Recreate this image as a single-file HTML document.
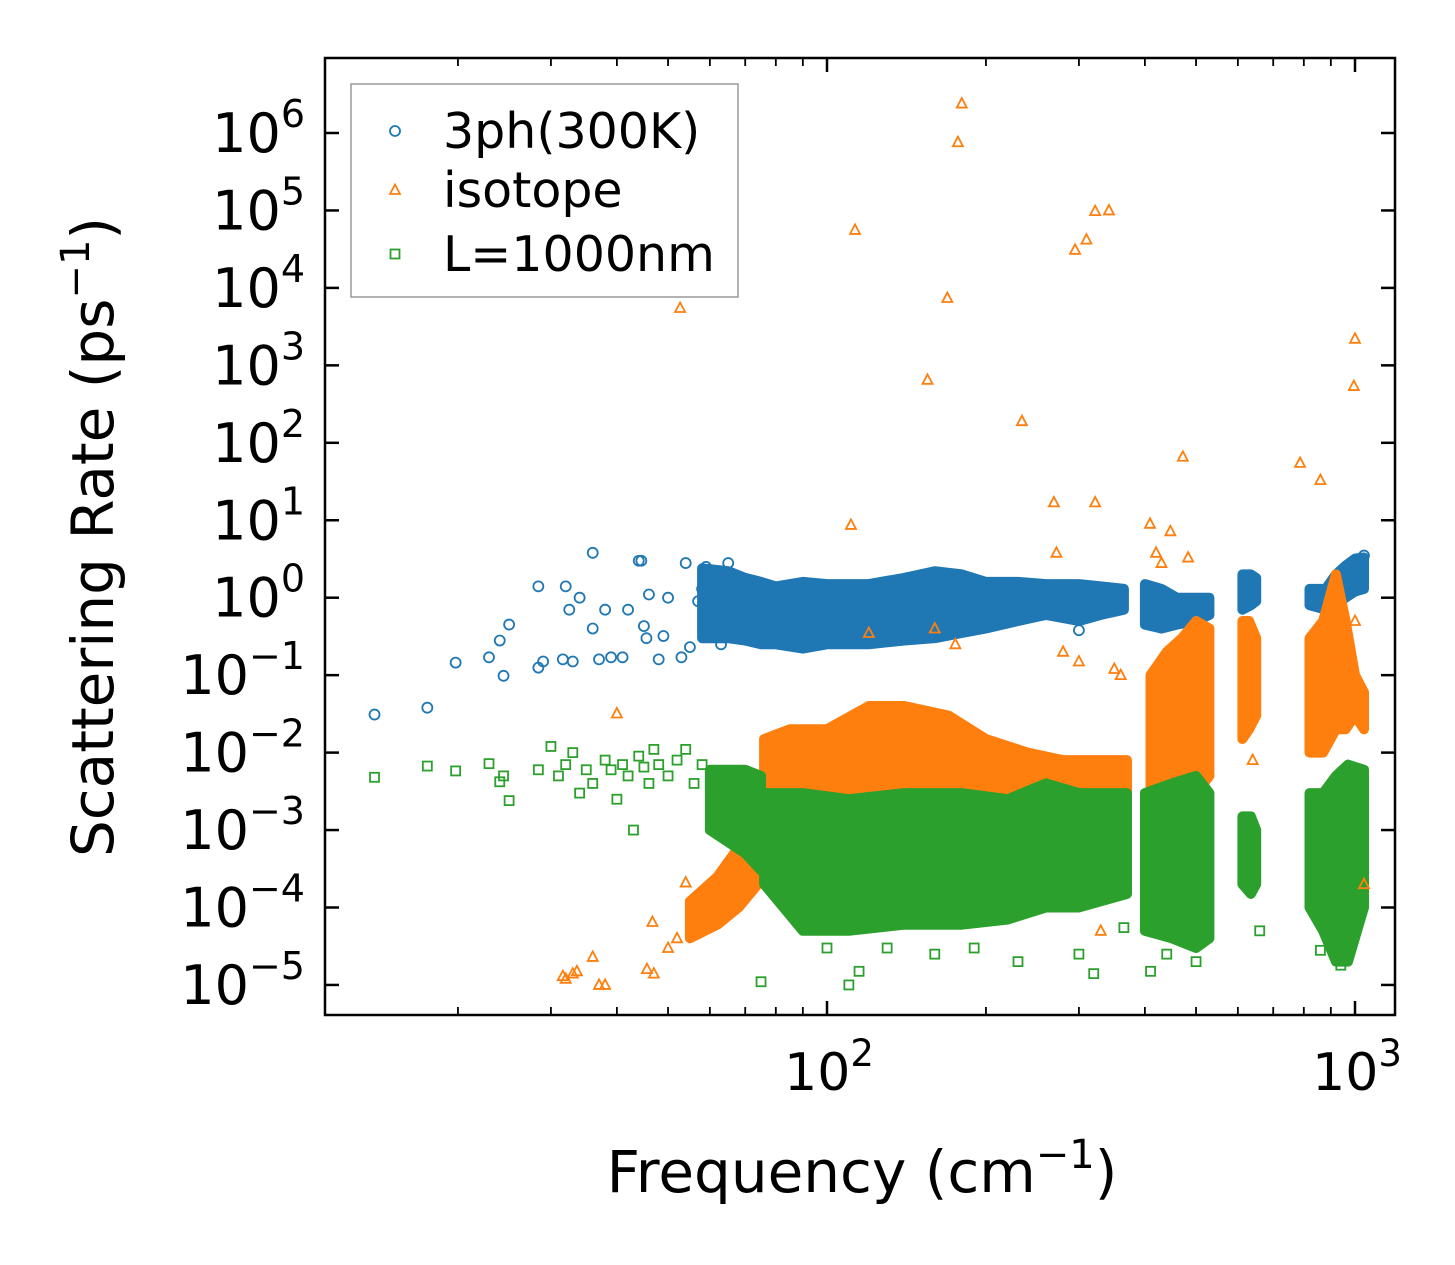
<!DOCTYPE html>
<html><head><meta charset="utf-8"><style>
html,body{margin:0;padding:0;background:#fff;}
svg{display:block;font-family:"DejaVu Sans","Liberation Sans",sans-serif;}
</style></head><body>
<svg id="chart" width="1455" height="1265" viewBox="0 0 1455 1265" xmlns="http://www.w3.org/2000/svg">
<rect width="1455" height="1265" fill="#fff"/>
<g id="bands"></g>
<g id="marks"></g>
<g id="axes"></g>
</svg>
<script>
// ---- data ----
const xTickValues = [100, 1000];
const xTickLabels = ["2", "3"];
const yTickExps = [-5,-4,-3,-2,-1,0,1,2,3,4,5,6];
const seriesNames = ["3ph(300K)", "isotope", "L=1000nm"];

const threephPoints = [[13.9,0.031],[17.5,0.038],[19.8,0.145],[22.9,0.17],[24,0.28],[24.4,0.098],[25,0.45],[28.4,1.4],[28.4,0.125],[29,0.15],[31.6,0.16],[32,1.4],[32.5,0.7],[33,0.15],[34,1.0],[36,3.8],[36,0.4],[37,0.16],[38,0.7],[39,0.17],[41,0.17],[42,0.7],[44,3],[44.5,3],[45,0.43],[46,1.1],[45.5,0.3],[48,0.16],[50,1],[49,0.32],[53,0.17],[54,2.8],[55,0.23],[57,0.9],[58,1.3],[59,2.5],[60,1.8],[62,2.2],[63,0.25],[65,2.8],[300,0.38],[1040,3.5]];
const threephBand1 = [[58,0.3,2.4],[65,0.3,2.2],[70,0.28,1.8],[75,0.25,1.6],[80,0.25,1.4],[90,0.22,1.6],[100,0.25,1.5],[120,0.25,1.5],[140,0.28,1.8],[160,0.3,2.2],[180,0.35,2.0],[200,0.4,1.6],[230,0.5,1.6],[260,0.6,1.5],[300,0.5,1.5],[330,0.6,1.4],[365,0.7,1.3]];
const threephBand2 = [[400,0.45,1.5],[430,0.4,1.3],[460,0.45,1.0],[500,0.5,1.0],[530,0.6,1.0]];
const threephBand3 = [[612,0.7,2.0],[635,0.8,2.0],[650,0.9,1.8]];
const threephBand4 = [[820,0.8,1.3],[880,0.7,1.3],[920,0.8,2.0],[960,1.0,2.6],[1000,1.2,3.2],[1040,1.3,3.3]];

const isotopePoints = [[52.7,5500],[113,56000],[180,2.4e6],[177,7.6e5],[169,7400],[155,650],[234,190],[295,31000],[310,42000],[322,98000],[342,1e5],[1000,2200],[995,540],[472,66],[787,55],[860,33],[111,8.7],[269,17],[322,17],[409,9],[447,7.2],[272,3.8],[420,3.8],[430,2.8],[483,3.3],[40,0.032],[54,2.1e-4],[46.7,6.5e-5],[31.6,1.3e-5],[32,1.2e-5],[33,1.4e-5],[33.6,1.5e-5],[36,2.3e-5],[37,1e-5],[38,1e-5],[45.6,1.6e-5],[47,1.4e-5],[50,3e-5],[52,4e-5],[160,0.4],[175,0.25],[280,0.2],[300,0.15],[360,0.1],[350,0.12],[120,0.35],[330,5e-5],[1040,2e-4],[640,0.008],[1000,0.5]];
const isotopeBand1 = [[55,4e-5,1.2e-4],[62,6e-5,2.5e-4],[68,1e-4,6e-4],[74,2e-4,3e-3]];
const isotopeBand2 = [[76,3e-4,1.5e-2],[85,2e-4,2e-2],[100,2e-4,2e-2],[120,1.5e-4,4e-2],[140,1.5e-4,4e-2],[170,1.5e-4,3e-2],[200,1.5e-4,1.5e-2],[240,1.5e-4,1e-2],[280,1.5e-4,8e-3],[320,1.5e-4,8e-3],[370,2e-4,8e-3]];
const isotopeBand3 = [[410,3e-4,0.1],[440,5e-4,0.2],[470,1e-3,0.3],[500,3e-3,0.5],[530,5e-3,0.4]];
const isotopeBand4 = [[612,0.015,0.5],[630,0.02,0.5],[650,0.03,0.3]];
const isotopeBand5 = [[820,0.01,0.3],[870,0.01,0.5],[920,0.02,2],[960,0.02,0.5],[1000,0.03,0.1],[1040,0.02,0.06]];

const lengthPoints = [[13.9,4.8e-3],[17.5,6.7e-3],[19.8,5.8e-3],[22.9,7.2e-3],[24,4.2e-3],[24.4,5e-3],[25,2.4e-3],[28.4,6e-3],[30,1.2e-2],[31,5e-3],[32,7e-3],[33,1e-2],[34,3e-3],[35,6e-3],[36,4e-3],[38,8e-3],[39,6e-3],[40,2.5e-3],[41,7e-3],[42,5e-3],[43,1e-3],[44,9e-3],[45,6.5e-3],[46,4e-3],[47,1.1e-2],[48,7e-3],[50,5e-3],[52,8e-3],[54,1.1e-2],[56,4e-3],[58,7e-3],[75,1.1e-5],[110,1e-5],[115,1.5e-5],[100,3e-5],[130,3e-5],[160,2.5e-5],[190,3e-5],[230,2e-5],[300,2.5e-5],[320,1.4e-5],[365,5.5e-5],[410,1.5e-5],[440,2.5e-5],[500,2e-5],[660,5e-5],[860,2.8e-5],[940,1.8e-5]];
const lengthBand1 = [[60,1e-3,6e-3],[70,5e-4,6e-3],[75,3e-4,5e-3]];
const lengthBand2 = [[76,2e-4,3e-3],[90,5e-5,3e-3],[110,5e-5,2.5e-3],[140,6e-5,3e-3],[180,6e-5,3e-3],[220,7e-5,2.5e-3],[260,1e-4,4e-3],[300,1e-4,3e-3],[370,1.5e-4,3e-3]];
const lengthBand3 = [[400,5e-5,3e-3],[450,4e-5,4e-3],[500,3e-5,5e-3],[530,4e-5,3e-3]];
const lengthBand4 = [[612,2e-4,1.5e-3],[635,1.5e-4,1.5e-3],[650,2e-4,1e-3]];
const lengthBand5 = [[820,1e-4,3e-3],[870,5e-5,3e-3],[920,2e-5,5e-3],[970,2e-5,7e-3],[1040,1e-4,6e-3]];

// ---- scales ----
const L=325,R=1395,T=58,B=1015;
function xs(f){return 827+(Math.log10(f)-2)*528;}
function ys(v){return 133-(Math.log10(v)-6)*77.45;}
const NS="http://www.w3.org/2000/svg";
function mk(tag,parent){const e=document.createElementNS(NS,tag);parent.appendChild(e);return e;}
const C=["#1f77b4","#ff7f0e","#2ca02c"];
const bands=document.getElementById('bands'), marks=document.getElementById('marks'), axes=document.getElementById('axes');

function drawBand(arr,color,name,grp){
  const top=arr.map(d=>xs(d[0]).toFixed(1)+","+ys(d[2]).toFixed(1));
  const bot=arr.slice().reverse().map(d=>xs(d[0]).toFixed(1)+","+ys(d[1]).toFixed(1));
  const p=mk('polygon',grp);
  p.setAttribute('points',top.concat(bot).join(' '));
  p.setAttribute('fill',color);p.setAttribute('stroke',color);p.setAttribute('stroke-width','10');p.setAttribute('stroke-linejoin','round');
  
  
}
function marker(kind,x,y,color,parent){
  let e;
  if(kind===0){e=mk('circle',parent);e.setAttribute('cx',x);e.setAttribute('cy',y);e.setAttribute('r',5);}
  else if(kind===1){e=mk('polygon',parent);e.setAttribute('points',`${x},${y-5.5} ${x-5},${y+4} ${x+5},${y+4}`);}
  else {e=mk('rect',parent);e.setAttribute('x',x-4.5);e.setAttribute('y',y-4.5);e.setAttribute('width',9);e.setAttribute('height',9);}
  e.setAttribute('fill','none');e.setAttribute('stroke',color);e.setAttribute('stroke-width','1.8');
  return e;
}
function drawPts(arr,kind,color,name){
  const g=mk('g',marks);
  
  
  arr.forEach(d=>{const e=marker(kind,xs(d[0]),ys(d[1]),color,g);
    
    });
}
[threephBand1,threephBand2,threephBand3,threephBand4].forEach(b=>drawBand(b,C[0],'3ph-cluster',bands));
drawPts(threephPoints,0,C[0],'3ph-series');
[isotopeBand1,isotopeBand2,isotopeBand3,isotopeBand4,isotopeBand5].forEach(b=>drawBand(b,C[1],'isotope-cluster',bands));
drawPts(isotopePoints,1,C[1],'isotope-series');
[lengthBand1,lengthBand2,lengthBand3,lengthBand4,lengthBand5].forEach(b=>drawBand(b,C[2],'boundary-cluster',bands));
drawPts(lengthPoints,2,C[2],'boundary-series');

// ---- axes ----
const frame=mk('rect',axes);
frame.setAttribute('x',L);frame.setAttribute('y',T);frame.setAttribute('width',R-L);frame.setAttribute('height',B-T);
frame.setAttribute('fill','none');frame.setAttribute('stroke','#000');frame.setAttribute('stroke-width','2.5');


function line(x1,y1,x2,y2,w){const l=mk('line',axes);l.setAttribute('x1',x1);l.setAttribute('y1',y1);l.setAttribute('x2',x2);l.setAttribute('y2',y2);l.setAttribute('stroke','#000');l.setAttribute('stroke-width',w);return l;}
for(let dec=10;dec<=1000;dec*=10){for(let m=1;m<10;m++){const f=dec*m;const x=xs(f);if(x<L||x>R)continue;const len=m===1?14:8;
  line(x,B,x,B-len,m===1?2.5:1.8);line(x,T,x,T+len,m===1?2.5:1.8);}}
xTickValues.forEach((v,i)=>{const t=mk('text',axes);t.setAttribute('x',xs(v)+2);t.setAttribute('y',1090);t.setAttribute('text-anchor','middle');t.setAttribute('font-size','52');
  t.innerHTML=`10<tspan dy="-24" font-size="37">${xTickLabels[i]}</tspan>`;
  
  });
yTickExps.forEach(e=>{const y=ys(Math.pow(10,e));line(L,y,L+14,y,2.5);line(R,y,R-14,y,2.5);
  const t=mk('text',axes);t.setAttribute('x',305);t.setAttribute('y',y+19);t.setAttribute('text-anchor','end');t.setAttribute('font-size','54');
  t.innerHTML=`10<tspan dy="-25" font-size="38">${e<0?'\u2212'+(-e):e}</tspan>`;
  
  });
const xl=mk('text',axes);xl.setAttribute('x',862);xl.setAttribute('y',1192);xl.setAttribute('text-anchor','middle');xl.setAttribute('font-size','58');
xl.innerHTML='Frequency (cm<tspan dy="-24" font-size="40">\u22121</tspan><tspan dy="24">)</tspan>';


const yl=mk('text',axes);yl.setAttribute('transform','translate(113,537) rotate(-90)');yl.setAttribute('text-anchor','middle');yl.setAttribute('font-size','58');
yl.innerHTML='Scattering Rate (ps<tspan dy="-24" font-size="40">\u22121</tspan><tspan dy="24">)</tspan>';


// legend
const lg=mk('g',axes);


const lb=mk('rect',lg);lb.setAttribute('x',351);lb.setAttribute('y',84);lb.setAttribute('width',387);lb.setAttribute('height',213);lb.setAttribute('fill','#fff');lb.setAttribute('fill-opacity','0.8');lb.setAttribute('stroke','#999');lb.setAttribute('stroke-width','1.5');
const ly=[131,190,254];
seriesNames.forEach((n,i)=>{const en=mk('g',lg);
  
  
  marker(i,395,ly[i],C[i],en);
  const t=mk('text',en);t.setAttribute('x',443);t.setAttribute('y',ly[i]+17);t.setAttribute('font-size','49');t.textContent=n;});
</script>
</body></html>
